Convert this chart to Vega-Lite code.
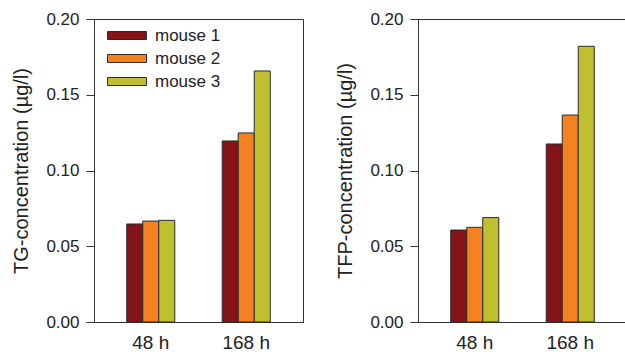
{
  "$schema": "https://vega.github.io/schema/vega-lite/v6.json",
  "padding": {"left": 11, "top": 9, "right": 0, "bottom": 0},
  "background": "white",
  "spacing": 31,
  "config": {
    "font": "Liberation Sans",
    "view": {"stroke": "#333333", "strokeWidth": 1},
    "axis": {"domainColor": "#333333", "tickColor": "#333333", "labelColor": "#222222", "titleColor": "#222222", "grid": false, "labelFont": "Liberation Sans", "titleFont": "Liberation Sans", "titleFontWeight": "normal"},
    "legend": {"labelFont": "Liberation Sans"}
  },
  "datasets": {
    "conc": [
      {"measure": "TG", "time": "48 h", "mouse": "mouse 1", "value": 0.0647},
      {"measure": "TG", "time": "48 h", "mouse": "mouse 2", "value": 0.0666},
      {"measure": "TG", "time": "48 h", "mouse": "mouse 3", "value": 0.0671},
      {"measure": "TG", "time": "168 h", "mouse": "mouse 1", "value": 0.1195},
      {"measure": "TG", "time": "168 h", "mouse": "mouse 2", "value": 0.1248},
      {"measure": "TG", "time": "168 h", "mouse": "mouse 3", "value": 0.1657},
      {"measure": "TFP", "time": "48 h", "mouse": "mouse 1", "value": 0.0607},
      {"measure": "TFP", "time": "48 h", "mouse": "mouse 2", "value": 0.0625},
      {"measure": "TFP", "time": "48 h", "mouse": "mouse 3", "value": 0.0689},
      {"measure": "TFP", "time": "168 h", "mouse": "mouse 1", "value": 0.1175},
      {"measure": "TFP", "time": "168 h", "mouse": "mouse 2", "value": 0.1366},
      {"measure": "TFP", "time": "168 h", "mouse": "mouse 3", "value": 0.1820}
    ]
  },
  "resolve": {"legend": {"color": "independent"}},
  "hconcat": [
    {
      "width": 209,
      "height": 303,
      "data": {"name": "conc"},
      "transform": [{"filter": "datum.measure === 'TG'"}],
      "mark": {"type": "bar", "stroke": "#2b2b2b", "strokeWidth": 1},
      "encoding": {
        "x": {"field": "time", "type": "nominal", "sort": ["48 h", "168 h"],
          "scale": {"paddingInner": 0.497, "paddingOuter": 0.343},
          "axis": {"title": null, "labelAngle": 0, "ticks": false, "labelFontSize": 19, "labelPadding": 11, "domain": true}},
        "xOffset": {"field": "mouse", "type": "nominal", "scale": {"paddingInner": 0, "paddingOuter": 0}},
        "y": {"field": "value", "type": "quantitative",
          "scale": {"domain": [0, 0.2], "nice": false},
          "axis": {"title": "TG-concentration (µg/l)", "values": [0, 0.05, 0.1, 0.15, 0.2], "format": ".2f", "tickSize": 8, "labelFontSize": 17, "labelPadding": 7, "titleFontSize": 20, "titlePadding": 14}},
        "color": {"field": "mouse", "type": "nominal",
          "scale": {"domain": ["mouse 1", "mouse 2", "mouse 3"], "range": ["#841419", "#f58220", "#bfbf30"]},
          "legend": {"title": null, "orient": "none", "legendX": 24.5, "legendY": 8, "padding": 0,
            "symbolType": "M-4.875,-1H4.875V1H-4.875Z", "symbolSize": 64, "symbolStrokeColor": "#2b2b2b", "symbolStrokeWidth": 1,
            "labelFontSize": 17, "labelColor": "#222222", "labelOffset": 19.5, "rowPadding": 5}}
      }
    },
    {
      "width": 209,
      "height": 303,
      "data": {"name": "conc"},
      "transform": [{"filter": "datum.measure === 'TFP'"}],
      "mark": {"type": "bar", "stroke": "#2b2b2b", "strokeWidth": 1},
      "encoding": {
        "x": {"field": "time", "type": "nominal", "sort": ["48 h", "168 h"],
          "scale": {"paddingInner": 0.497, "paddingOuter": 0.343},
          "axis": {"title": null, "labelAngle": 0, "ticks": false, "labelFontSize": 19, "labelPadding": 11}},
        "xOffset": {"field": "mouse", "type": "nominal", "scale": {"paddingInner": 0, "paddingOuter": 0}},
        "y": {"field": "value", "type": "quantitative",
          "scale": {"domain": [0, 0.2], "nice": false},
          "axis": {"title": "TFP-concentration (µg/l)", "values": [0, 0.05, 0.1, 0.15, 0.2], "format": ".2f", "tickSize": 8, "labelFontSize": 17, "labelPadding": 7, "titleFontSize": 20, "titlePadding": 14}},
        "color": {"field": "mouse", "type": "nominal",
          "scale": {"domain": ["mouse 1", "mouse 2", "mouse 3"], "range": ["#841419", "#f58220", "#bfbf30"]},
          "legend": null}
      }
    }
  ]
}
